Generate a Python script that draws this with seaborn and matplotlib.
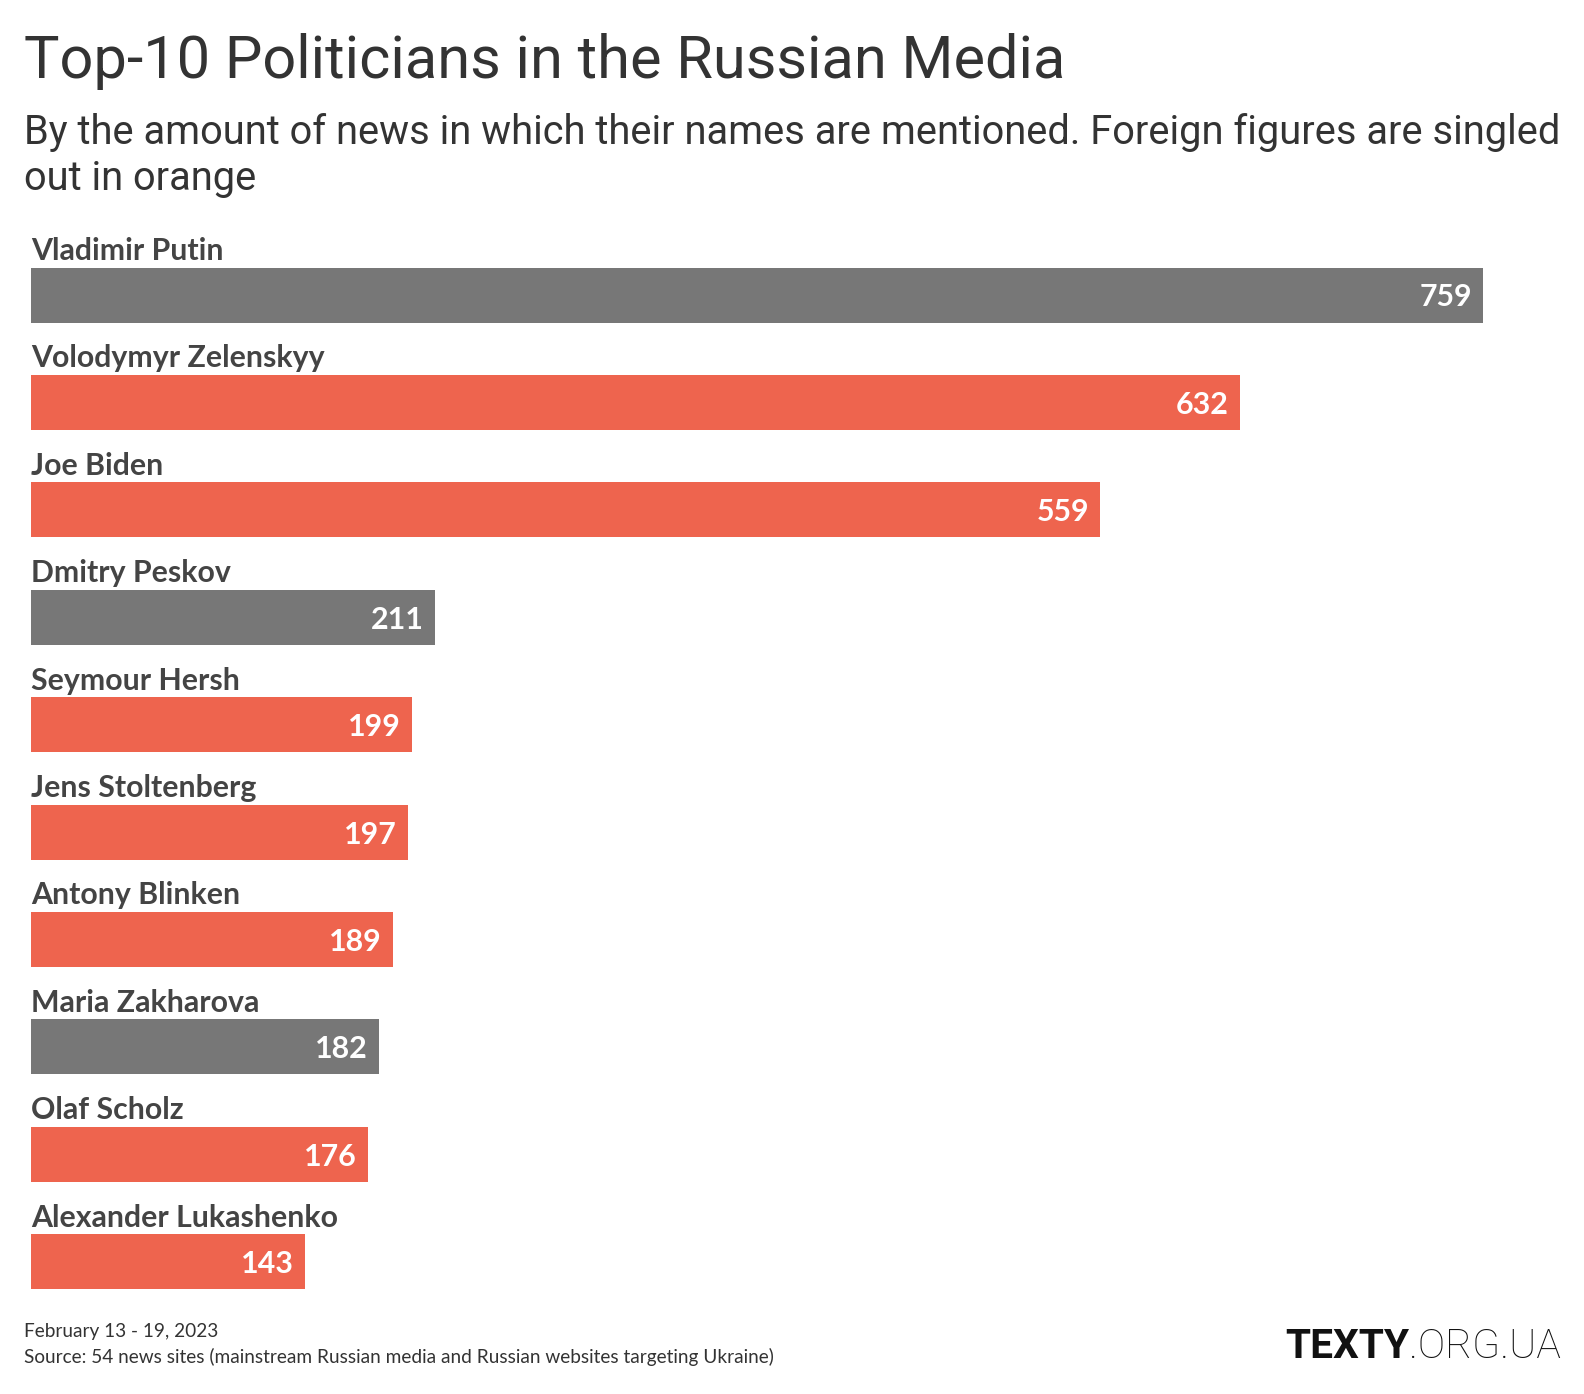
import matplotlib
matplotlib.use("Agg")
import matplotlib.pyplot as plt
from matplotlib.transforms import offset_copy
import seaborn as sns
import pandas as pd

# ---------------- data ----------------
names = ["Vladimir Putin", "Volodymyr Zelenskyy", "Joe Biden", "Dmitry Peskov",
         "Seymour Hersh", "Jens Stoltenberg", "Antony Blinken", "Maria Zakharova",
         "Olaf Scholz", "Alexander Lukashenko"]
values = [759, 632, 559, 211, 199, 197, 189, 182, 176, 143]
foreign = [False, True, True, False, True, True, True, False, True, True]

title = "Top-10 Politicians in the Russian Media"
subtitle1 = "By the amount of news in which their names are mentioned. Foreign figures are singled"
subtitle2 = "out in orange"
footer1 = "February 13 - 19, 2023"
footer2 = "Source: 54 news sites (mainstream Russian media and Russian websites targeting Ukraine)"

GRAY = "#777777"
ORANGE = "#EE644E"
colors = [ORANGE if f else GRAY for f in foreign]

df = pd.DataFrame({"name": names, "value": values})

# ---------------- figure ----------------
sns.set_theme(style="white")
plt.rcParams["font.family"] = ["Lato", "DejaVu Sans"]
LBL = ["Lato", "Roboto", "DejaVu Sans"]

W, H = 1584, 1394
fig = plt.figure(figsize=(W / 100, H / 100), dpi=100)
renderer = fig.canvas.get_renderer()


def fit(t, target):
    w = t.get_window_extent(renderer).width
    t.set_fontsize(t.get_fontsize() * target / w)
    return t


pitch = 107.4
first_c = 295.0
top_px = first_c - pitch / 2
bot_px = first_c + 9 * pitch + pitch / 2
left_px = 31
right_px = 1483

ax = fig.add_axes([left_px / W, (H - bot_px) / H, (right_px - left_px) / W, (bot_px - top_px) / H])
sns.barplot(data=df, x="value", y="name", hue="name", palette=colors, legend=False,
            width=55 / pitch, linewidth=0, saturation=1, ax=ax)
ax.set_xlim(0, max(values))
ax.set_ylim(len(names) - 0.5, -0.5)
ax.axis("off")

name_tr = offset_copy(ax.transData, fig=fig, x=0, y=35, units="dots")
val_tr = offset_copy(ax.transData, fig=fig, x=-11, y=-11.5, units="dots")

name_texts = []
for i, (n, v) in enumerate(zip(names, values)):
    t = ax.text(0, i, n, transform=name_tr, ha="left", va="baseline",
                fontweight="bold", color="#444444", fontsize=20, family=LBL)
    name_texts.append(t)
fit_ref = name_texts[1]
fit(fit_ref, 292)
for t in name_texts:
    t.set_fontsize(fit_ref.get_fontsize())

val_texts = []
for i, v in enumerate(values):
    t = ax.text(v, i, str(v), transform=val_tr, ha="right", va="baseline",
                fontweight="bold", color="white", fontsize=20, family=LBL)
    val_texts.append(t)
fit(val_texts[0], 52.7)
for t in val_texts:
    t.set_fontsize(val_texts[0].get_fontsize())

# ---------------- titles ----------------
tt = fig.text(24 / W, 1 - 78 / H, title, ha="left", va="baseline", color="#333333",
              fontsize=40, family=["Roboto", "DejaVu Sans"])
fit(tt, 1040)

s1 = fig.text(24 / W, 1 - 144 / H, subtitle1, ha="left", va="baseline", color="#333333",
              fontsize=28, family=["Roboto", "DejaVu Sans"])
fit(s1, 1537)
fig.text(24 / W, 1 - 190 / H, subtitle2, ha="left", va="baseline", color="#333333",
         fontsize=s1.get_fontsize(), family=["Roboto", "DejaVu Sans"])

# ---------------- footer ----------------
f2 = fig.text(24 / W, 1 - 1363 / H, footer2, ha="left", va="baseline", color="#333333",
              fontsize=12, family=LBL)
fit(f2, 748)
fig.text(24 / W, 1 - 1337 / H, footer1, ha="left", va="baseline", color="#333333",
         fontsize=f2.get_fontsize(), family=LBL)

# logo
l1 = fig.text(1285 / W, 1 - 1358 / H, "TEXTY", ha="left", va="baseline", color="#111111",
              fontsize=30, fontweight="bold", family=["Roboto", "DejaVu Sans"])
fit(l1, 124)
ext = l1.get_window_extent(renderer)
l2 = fig.text(ext.x1 / W, 1 - 1358 / H, ".ORG.UA", ha="left", va="baseline", color="#111111",
              fontsize=l1.get_fontsize(), fontweight="light", family=["Roboto", "DejaVu Sans"])
fit(l2, 1561 - ext.x1)

fig.savefig("out.png", dpi=100, facecolor="white")
